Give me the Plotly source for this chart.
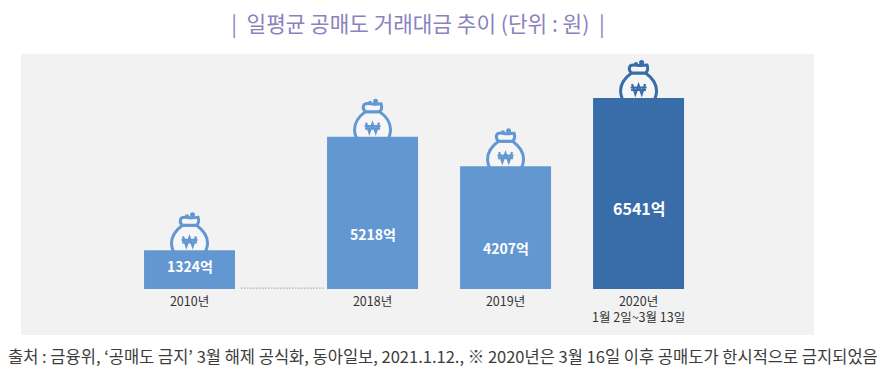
import plotly.graph_objects as go

categories = ["2010년", "2018년", "2019년", "2020년<br>1월 2일~3월 13일"]
values = [1324, 5218, 4207, 6541]
value_labels = ["1324억", "5218억", "4207억", "6541억"]
title_text = "|  일평균 공매도 거래대금 추이 (단위 : 원)  |"
source_text = "출처 : 금융위, ‘공매도 금지’ 3월 해제 공식화, 동아일보, 2021.1.12., ※ 2020년은 3월 16일 이후 공매도가 한시적으로 금지되었음"

slots = [0, 1.376, 2.376, 3.376]
colors = ["#6397d2", "#6397d2", "#6397d2", "#386da9"]
label_shift = [23, 55, 41, 81]
label_size = [14, 14, 14, 16]
FONT = "Noto Sans CJK KR"
OFF = 8  # the page body has an 8px margin
W, H = 887 - OFF, 385 - OFF
L, R, T, B = 21 - OFF, 814 - OFF, 54 - OFF, 289 - OFF

# pixel offsets from the bar's top centre, positive = upward
BODY = "M -7 25 C -14 20 -18 14 -18 7 C -18 0 -15 -4 -12 -8 L 12 -8 C 15 -4 18 0 18 7 C 18 14 14 20 7 25 Z"
NECK = "M -8.5 32 C -6 34 -3 33 0 32.5 C 3 32 6 33 8.5 33 C 9.5 30 9.5 27 7 25 L -7 25 C -9.5 27 -9.5 30 -8.5 32 Z"
WON = "M -6.5 14 L -3.2 4 L 0 13 L 3.2 4 L 6.5 14 M -8 10.5 L 8 10.5 M -7.5 8 L 7.5 8"

fig = go.Figure(go.Bar(x=slots, y=values, width=0.684, marker=dict(color=colors, line_width=0),
                       hoverinfo="skip"))

shapes = [dict(type="rect", xref="paper", yref="paper", layer="below", x0=0, x1=1,
               y0=-(335 - 289) / (B - T), y1=1, fillcolor="#f2f2f2", line_width=0),
          dict(type="line", xref="x", yref="y", layer="below", x0=0.39, x1=1.01, y0=30, y1=30,
               line=dict(color="#666666", width=1, dash="1px,2px"))]
annotations = []
for s, v, c, lab, sh, sz in zip(slots, values, colors, value_labels, label_shift, label_size):
    common = dict(type="path", xref="x", yref="y", xsizemode="pixel", ysizemode="pixel",
                  xanchor=s, yanchor=v, layer="below")
    shapes.append(dict(path=BODY, fillcolor="#f6f6f6", line=dict(color=c, width=3), **common))
    shapes.append(dict(path=NECK, fillcolor="#f6f6f6", line=dict(color=c, width=3), **common))
    shapes.append(dict(path=WON, line=dict(color=c, width=2.2), **common))
    for x0, x1, y0, y1 in [(0.5, 5.5, 33, 38), (-4.5, -0.5, 32, 36)]:
        shapes.append(dict(type="circle", xref="x", yref="y", xsizemode="pixel", ysizemode="pixel",
                           xanchor=s, yanchor=v, layer="below", x0=x0, x1=x1, y0=y0, y1=y1,
                           fillcolor=c, line_width=0))
    annotations.append(dict(x=s, y=0, yshift=sh, text=f"<b>{lab}</b>", showarrow=False,
                            font=dict(family=FONT, size=sz, color="white")))

annotations.append(dict(xref="paper", yref="paper", x=(6 - 21) / (814 - 21), y=-(356 - 289) / (B - T),
                        xanchor="left", yanchor="middle", text=source_text, showarrow=False,
                        font=dict(family=FONT, size=16.5, color="#3c3c3c")))

fig.update_layout(
    width=W, height=H, autosize=False, showlegend=False,
    margin=dict(l=L, r=W - R, t=T, b=H - B, pad=0),
    paper_bgcolor="white", plot_bgcolor="rgba(0,0,0,0)",
    title=dict(text=title_text, x=(418 - OFF) / W, xanchor="center", y=1 - (25 - OFF) / H, yanchor="middle",
               font=dict(family=FONT, size=21.3, color="#8a82bd")),
    xaxis=dict(range=[-1.267, 4.695], tickmode="array", tickvals=slots, ticktext=categories,
               showgrid=False, zeroline=False, showline=False, ticks="", ticklen=0, ticklabelstandoff=3,
               tickfont=dict(family=FONT, size=12.5, color="#333333")),
    yaxis=dict(range=[0, 8048], visible=False, showgrid=False, zeroline=False),
    shapes=shapes, annotations=annotations,
)
fig.write_html("out.html")
